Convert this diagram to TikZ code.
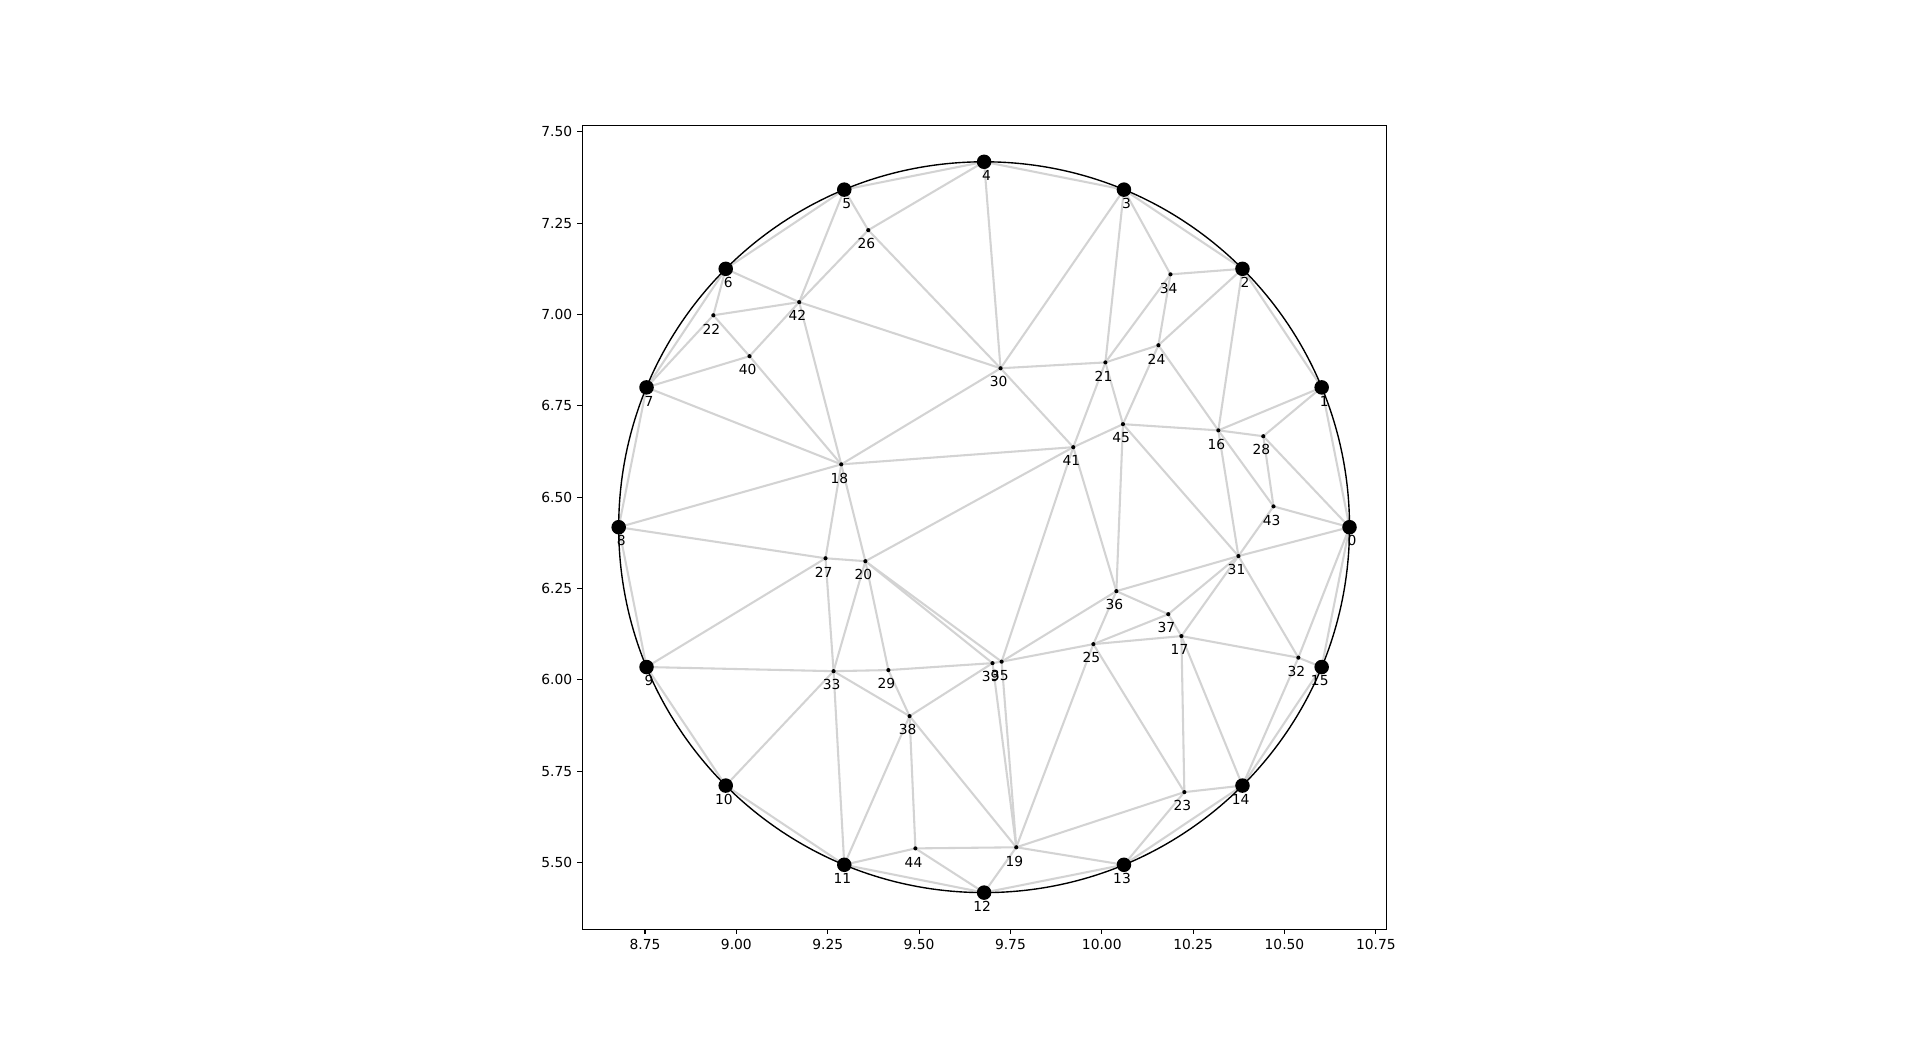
\documentclass[tikz,border=0pt]{standalone}
\usepackage{fontspec}
\setmainfont{DejaVu Sans}
\usetikzlibrary{calc}
\definecolor{lgray}{RGB}{211,211,211}
\begin{document}
\begin{tikzpicture}[x=3.654in,y=3.654in,
  edge/.style={line width=1.5pt, draw=lgray},
  bdot/.style={circle, fill=black, inner sep=0pt, minimum size=10.5pt},
  idot/.style={circle, fill=black, inner sep=0pt, minimum size=3pt},
  lbl/.style={inner sep=0pt, anchor=east, xshift=5.2pt, yshift=-9.9pt, font=\fontsize{10}{12}\selectfont},
  tlbl/.style={inner sep=0pt, font=\fontsize{10}{12}\selectfont},
  axisline/.style={line width=0.8pt, draw=black}]
\useasboundingbox (6.9849,5.0038) rectangle (12.2394,7.8609);
\coordinate (c) at (9.678,6.418);
% boundary nodes on the unit circle
\foreach \k in {0,...,15} \coordinate (n\k) at ($(c)+(\k*22.5:1)$);
% interior nodes
\foreach \i/\x/\y in {16/10.319/6.683, 17/10.218/6.120, 18/9.287/6.590, 19/9.766/5.542,
  20/9.353/6.325, 21/10.010/6.869, 22/8.937/6.998, 23/10.226/5.693, 24/10.155/6.916,
  25/9.977/6.098, 26/9.361/7.231, 27/9.244/6.333, 28/10.442/6.667, 29/9.416/6.027,
  30/9.723/6.853, 31/10.374/6.339, 32/10.538/6.061, 33/9.266/6.024, 34/10.188/7.110,
  35/9.726/6.050, 36/10.040/6.243, 37/10.182/6.180, 38/9.474/5.901, 39/9.701/6.046,
  40/9.036/6.886, 41/9.922/6.637, 42/9.172/7.034, 43/10.470/6.475, 44/9.490/5.539,
  45/10.058/6.700}
  \coordinate (n\i) at (\x,\y);
% mesh edges
\foreach \a/\b in {0/1,1/2,2/3,3/4,4/5,5/6,6/7,7/8,8/9,9/10,10/11,11/12,12/13,13/14,14/15,15/0,
  0/28,0/43,0/31,0/32, 1/16,1/28, 2/34,2/24,2/16, 3/34,3/21,3/30, 4/30,4/26, 5/26,5/42,
  6/42,6/22, 7/22,7/40,7/18, 8/18,8/27, 9/27,9/33, 10/33, 11/33,11/38,11/44, 12/44,12/19,
  13/19,13/23, 14/23,14/17,14/32, 15/32,
  16/24,16/45,16/28,16/43,16/31, 17/31,17/37,17/25,17/32,17/23,
  18/40,18/42,18/30,18/41,18/20,18/27, 19/44,19/38,19/39,19/35,19/25,19/23,
  20/27,20/33,20/29,20/39,20/35,20/41, 21/30,21/41,21/45,21/24,21/34,
  22/42,22/40, 23/25, 24/34,24/45, 25/35,25/36,25/37, 26/30,26/42, 27/33, 28/43,
  29/33,29/38,29/39, 30/41,30/42, 31/43,31/45,31/36,31/37,31/32, 33/38,
  35/39,35/41,35/36, 36/37,36/41,36/45, 38/39,38/44, 40/42, 41/45}
  \draw[edge] (n\a) -- (n\b);
% circle
\draw[line width=1pt, black] (c) circle[radius=1];
% dots
\foreach \k in {0,...,15} \node[bdot] (d\k) at (n\k) {};
\foreach \k in {16,...,45} \node[idot] (d\k) at (n\k) {};
% labels
\foreach \k in {0,...,45} \node[lbl] (l\k) at (n\k) {\k};
% axes frame
\draw[axisline] (8.578,5.318) rectangle (10.778,7.518);
\foreach \t [count=\i] in {8.75,9.00,9.25,9.50,9.75,10.00,10.25,10.50,10.75} {
  \draw[axisline] (\t,5.318) -- ++(0,-3.5pt);
  \node[tlbl, anchor=north, yshift=-7pt] (xt\i) at (\t,5.318) {\t};
}
\foreach \t [count=\i] in {5.50,5.75,6.00,6.25,6.50,6.75,7.00,7.25,7.50} {
  \draw[axisline] (8.578,\t) -- ++(-3.5pt,0);
  \node[tlbl, anchor=east, xshift=-7pt] (yt\i) at (8.578,\t) {\t};
}
\end{tikzpicture}
\end{document}
